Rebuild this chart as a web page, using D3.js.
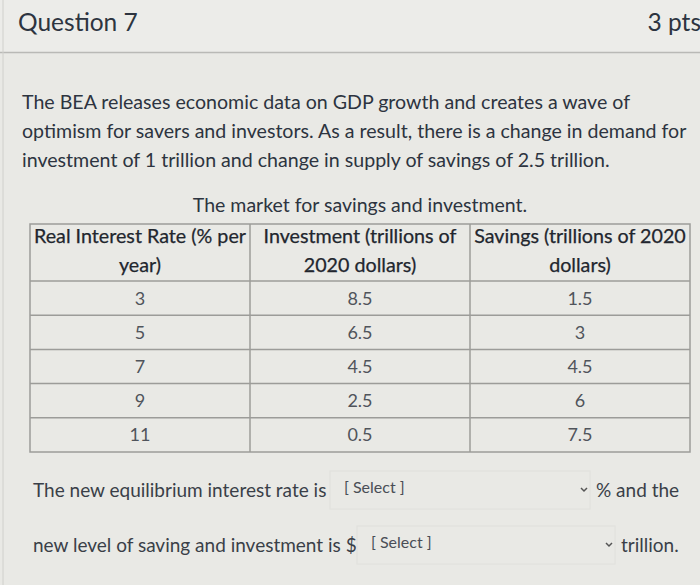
<!DOCTYPE html>
<html><head><meta charset="utf-8">
<script src="https://cdn.jsdelivr.net/npm/d3@7"></script>
<style>
html,body{margin:0;padding:0;background:#e9e9e5;}
svg{display:block;font-family:Lato,"Open Sans",sans-serif;}
</style></head>
<body>
<svg id="c" width="700" height="585"></svg>
<script>
const rates = [3, 5, 7, 9, 11];
const investment = [8.5, 6.5, 4.5, 2.5, 0.5];
const savings = [1.5, 3, 4.5, 6, 7.5];
const columns = ["rate", "inv", "sav"];
const headerLine1 = ["Real Interest Rate (% per", "Investment (trillions of", "Savings (trillions of 2020"];
const headerLine2 = ["year)", "2020 dollars)", "dollars)"];
const paragraph = [
  "The BEA releases economic data on GDP growth and creates a wave of",
  "optimism for savers and investors. As a result, there is a change in demand for",
  "investment of 1 trillion and change in supply of savings of 2.5 trillion."
];

const svg = d3.select("#c");
const ink = "#2d3440";

svg.append("rect").attr("x",0).attr("y",0).attr("width",700).attr("height",52).attr("fill","#ecece9");
svg.append("line").attr("x1",0).attr("x2",700).attr("y1",52.5).attr("y2",52.5).attr("stroke","#b9b9b6").attr("stroke-width",1.5);
svg.append("line").attr("x1",3).attr("x2",3).attr("y1",0).attr("y2",585).attr("stroke","#d0d0cc").attr("stroke-width",1);

svg.append("text").attr("x",18).attr("y",31).attr("font-size",24.5).attr("fill",ink).text("Question 7");
svg.append("text").attr("x",701).attr("y",31).attr("font-size",24.5).attr("text-anchor","end").attr("fill",ink).text("3 pts");

svg.append("g").selectAll("text").data(paragraph).join("text")
  .attr("x",22).attr("y",(d,i)=>109+i*29).attr("font-size",19.6).attr("fill",ink).text(d=>d);

svg.append("text").attr("x",360).attr("y",212).attr("font-size",19.5).attr("text-anchor","middle").attr("fill",ink)
  .text("The market for savings and investment.");

// table
const x = d3.scaleBand().domain(columns).range([30,690]);
const headerTop = 224, headerBottom = 281;
const y = d3.scaleBand().domain(rates).range([headerBottom, 452]);
const lineCol = "#9c9c99";
const tg = svg.append("g");

tg.append("rect").attr("x",30).attr("y",headerTop).attr("width",660).attr("height",452-headerTop)
  .attr("fill","none").attr("stroke",lineCol).attr("stroke-width",1.5);
tg.selectAll("line.v").data(columns.slice(1)).join("line").attr("class","v")
  .attr("x1",d=>x(d)).attr("x2",d=>x(d)).attr("y1",headerTop).attr("y2",452)
  .attr("stroke",lineCol).attr("stroke-width",1.5);
tg.selectAll("line.h").data(rates).join("line").attr("class","h")
  .attr("x1",30).attr("x2",690).attr("y1",d=>y(d)).attr("y2",d=>y(d))
  .attr("stroke",lineCol).attr("stroke-width",1.5);

tg.selectAll("text.h1").data(columns).join("text").attr("class","h1")
  .attr("x",d=>x(d)+x.bandwidth()/2).attr("y",243).attr("text-anchor","middle")
  .attr("font-size",19.7).attr("fill","#22262e").attr("stroke","#22262e").attr("stroke-width",0.25)
  .text((d,i)=>headerLine1[i]);
tg.selectAll("text.h2").data(columns).join("text").attr("class","h2")
  .attr("x",d=>x(d)+x.bandwidth()/2).attr("y",272).attr("text-anchor","middle")
  .attr("font-size",19.7).attr("fill","#22262e").attr("stroke","#22262e").attr("stroke-width",0.25)
  .text((d,i)=>headerLine2[i]);

const rows = rates.map((r,i)=>({rate:r, inv:investment[i], sav:savings[i]}));
rows.forEach(row=>{
  tg.selectAll(null).data(columns).join("text")
    .attr("x",d=>x(d)+x.bandwidth()/2).attr("y",y(row.rate)+y.bandwidth()/2+6.5)
    .attr("text-anchor","middle").attr("font-size",18).attr("fill","#50545b")
    .text(d=>row[d]);
});

// bottom sentences with select boxes
function selectLine(yc, pre, boxX, boxW, post){
  svg.append("text").attr("x",33).attr("y",yc+6).attr("font-size",19).attr("fill","#3a3f48").text(pre);
  svg.append("rect").attr("x",boxX).attr("y",yc-20).attr("width",boxW).attr("height",38)
    .attr("fill","none").attr("stroke","#e0e0dc").attr("stroke-width",1);
  svg.append("text").attr("x",boxX+14).attr("y",yc+2).attr("font-size",16).attr("fill","#4a4e56").text("[ Select ]");
  svg.append("path").attr("d",`M${boxX+boxW-9},${yc-3} l3,3 l3,-3`).attr("fill","none").attr("stroke","#555").attr("stroke-width",1.5);
  svg.append("text").attr("x",boxX+boxW+6).attr("y",yc+6).attr("font-size",19).attr("fill","#3a3f48").text(post);
}
selectLine(491, "The new equilibrium interest rate is", 330, 260, "% and the");
selectLine(546, "new level of saving and investment is $", 357, 258, "trillion.");
</script>
</body></html>
